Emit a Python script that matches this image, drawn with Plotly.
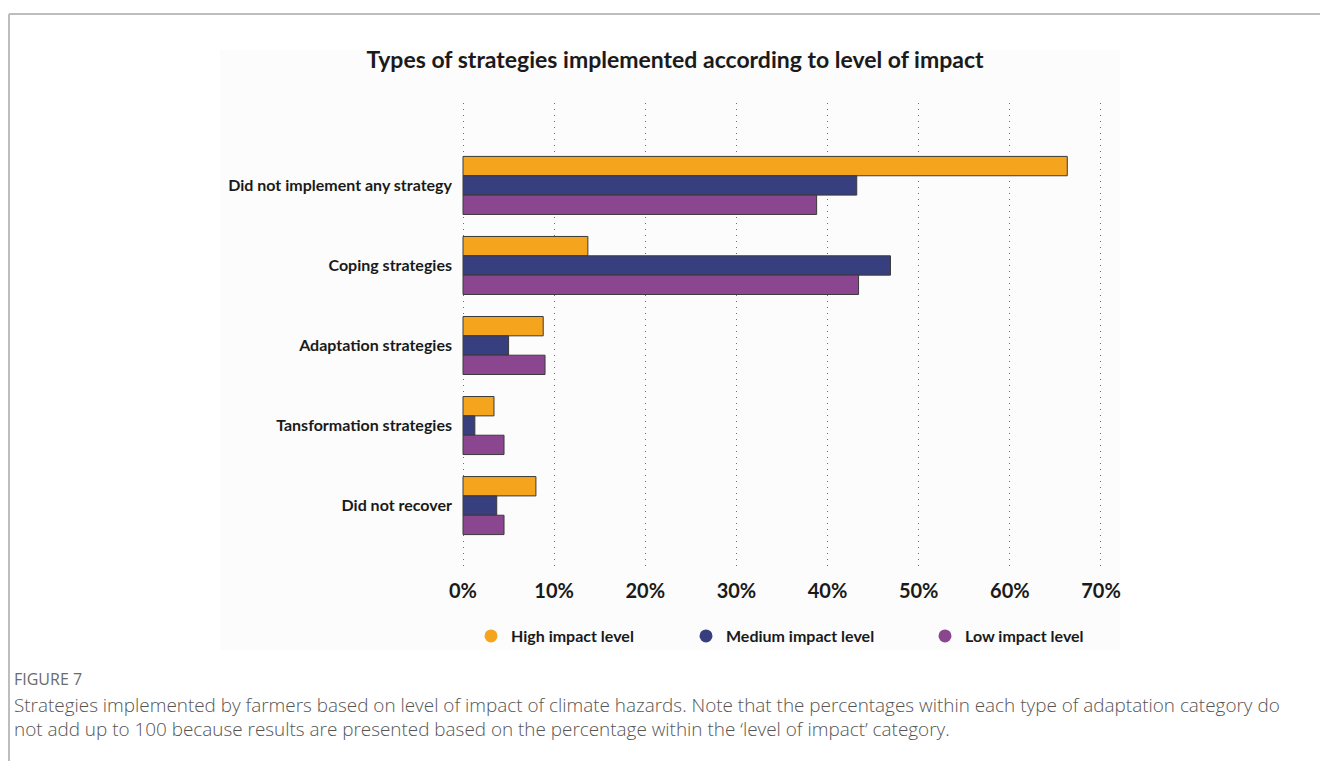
import plotly.graph_objects as go

categories = ["Did not implement any strategy", "Coping strategies", "Adaptation strategies",
              "Tansformation strategies", "Did not recover"]
high_impact = [66.3, 13.7, 8.8, 3.4, 8.0]
medium_impact = [43.2, 46.9, 5.0, 1.3, 3.7]
low_impact = [38.8, 43.4, 9.0, 4.5, 4.5]
series_names = ["High impact level", "Medium impact level", "Low impact level"]
colors = ["#F5A51D", "#383F7E", "#8A4790"]
x_ticks = [0, 10, 20, 30, 40, 50, 60, 70]
x_tick_labels = ["0%", "10%", "20%", "30%", "40%", "50%", "60%", "70%"]

W, H = 1320, 761
L, R, T, B = 461, 1103, 103, 568
X0, X1 = -0.22, 70.22


def xp(px):
    return (px - L) / (R - L)


def yp(py):
    return (B - py) / (B - T)


fig = go.Figure()
for name, vals, col in zip(series_names, [high_impact, medium_impact, low_impact], colors):
    fig.add_trace(go.Bar(
        y=categories, x=vals, orientation="h", name=name,
        marker=dict(color=col, line=dict(color="#3a3a3a", width=1)),
        showlegend=False, hoverinfo="x+y",
    ))

legend_names = ["legend", "legend2", "legend3"]
for name, col, lg in zip(series_names, colors, legend_names):
    fig.add_trace(go.Scatter(
        x=[None], y=[None], mode="markers", name=name,
        marker=dict(color=col, size=13, symbol="circle"),
        legend=lg, showlegend=True,
    ))

font_bold = "Lato"
legend_common = dict(orientation="h", yanchor="middle", xanchor="left",
                     font=dict(family=font_bold, size=16, color="#1a1a1a", weight="bold"),
                     bgcolor="rgba(0,0,0,0)", itemwidth=30)
legend_x_px = [471, 686, 925]

layout_legends = {}
for lg, px in zip(legend_names, legend_x_px):
    layout_legends[lg] = dict(legend_common, x=xp(px), y=yp(636))

grid_dash = "1px,5px"

fig.update_layout(
    width=W, height=H,
    margin=dict(l=L, r=W - R, t=T, b=H - B, pad=0),
    paper_bgcolor="white", plot_bgcolor="rgba(0,0,0,0)",
    barmode="group", bargap=0.275, bargroupgap=0,
    title=dict(text="Types of strategies implemented according to level of impact",
               xref="container", x=675 / W, xanchor="center", y=1 - 60 / H, yanchor="middle",
               font=dict(family=font_bold, size=23, color="#1a1a1a", weight="bold")),
    xaxis=dict(range=[X0, X1], tickvals=x_ticks, ticktext=x_tick_labels,
               showgrid=True, gridcolor="#6f6f6f", griddash=grid_dash, gridwidth=1,
               zeroline=False, showline=False, ticks="", ticklabelstandoff=9,
               tickfont=dict(family=font_bold, size=20, color="#1a1a1a", weight="bold"),
               fixedrange=True),
    yaxis=dict(range=[4.78, -1.03], type="category", showgrid=False, zeroline=False,
               showline=False, ticks="", ticklabelstandoff=8,
               tickfont=dict(family=font_bold, size=16, color="#1a1a1a", weight="bold"),
               fixedrange=True),
    showlegend=True,
    **layout_legends,
)

# faint chart background panel and figure frame
fig.add_shape(type="rect", xref="paper", yref="paper", x0=xp(220), x1=xp(1120), y0=yp(650), y1=yp(50),
              fillcolor="#fcfcfc", line=dict(width=0), layer="below")
fig.add_shape(type="line", xref="paper", yref="paper", x0=xp(9), x1=xp(1320), y0=yp(14), y1=yp(14),
              line=dict(color="#bdbdbd", width=2))
fig.add_shape(type="line", xref="paper", yref="paper", x0=xp(9), x1=xp(9), y0=yp(14), y1=yp(761),
              line=dict(color="#bdbdbd", width=2))

cap_font = "Open Sans"
fig.add_annotation(text="FIGURE 7", xref="paper", yref="paper", x=xp(12), y=yp(679),
                   xanchor="left", yanchor="middle", showarrow=False,
                   font=dict(family=cap_font, size=16, color="#6b6b6b"))
fig.add_annotation(text="Strategies implemented by farmers based on level of impact of climate hazards. "
                        "Note that the percentages within each type of adaptation category do",
                   xref="paper", yref="paper", x=xp(12), y=yp(705), xanchor="left", yanchor="middle",
                   showarrow=False, font=dict(family=cap_font, size=18.9, color="#555555", weight=300))
fig.add_annotation(text="not add up to 100 because results are presented based on the percentage "
                        "within the \u2018level of impact\u2019 category.",
                   xref="paper", yref="paper", x=xp(12), y=yp(729), xanchor="left", yanchor="middle",
                   showarrow=False, font=dict(family=cap_font, size=18.9, color="#555555", weight=300))

fig.write_html("out.html", config={"displayModeBar": False},
               post_script="document.body.style.margin='0px';document.body.style.overflow='hidden';")
